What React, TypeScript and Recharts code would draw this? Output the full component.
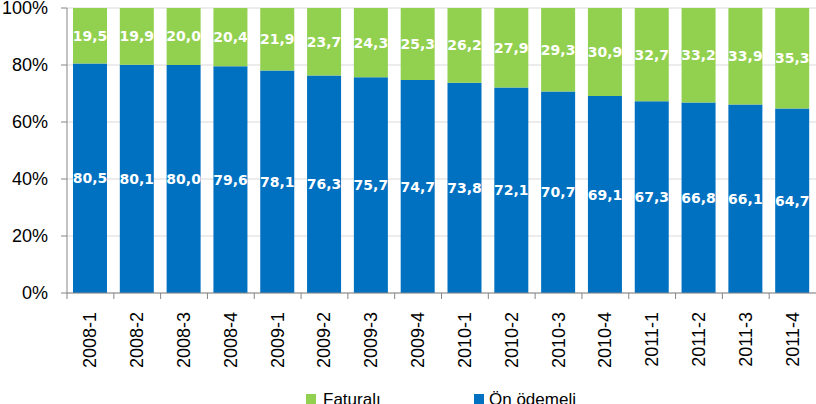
import React from "react"
import { BarChart, Bar, XAxis, YAxis, CartesianGrid, LabelList } from "recharts"

const periods = [
  "2008-1", "2008-2", "2008-3", "2008-4",
  "2009-1", "2009-2", "2009-3", "2009-4",
  "2010-1", "2010-2", "2010-3", "2010-4",
  "2011-1", "2011-2", "2011-3", "2011-4",
]
const onOdemeli = [80.5, 80.1, 80.0, 79.6, 78.1, 76.3, 75.7, 74.7, 73.8, 72.1, 70.7, 69.1, 67.3, 66.8, 66.1, 64.7]
const faturali = [19.5, 19.9, 20.0, 20.4, 21.9, 23.7, 24.3, 25.3, 26.2, 27.9, 29.3, 30.9, 32.7, 33.2, 33.9, 35.3]
const yTicks = [0, 20, 40, 60, 80, 100]

const data = periods.map((p, i) => ({ period: p, onOdemeli: onOdemeli[i], faturali: faturali[i] }))

const W = 816
const H = 404
const Y_AXIS_W = 67
const BLUE = "#0070C0"
const GREEN = "#92D050"
const AXIS = "#868686"
const FONT = "Liberation Sans, Arial, sans-serif"
const LABEL_FONT = "DejaVu Sans, Verdana, sans-serif"
const step = (W - Y_AXIS_W) / periods.length

const fmt = (v: any) => Number(v).toFixed(1).replace(".", ",")

// rotated category label plus a tick mark at the left edge of each band
const XTick = (props: any) => {
  const { x, y, payload } = props
  const left = x - step / 2
  return (
    <g>
      <line x1={left} x2={left} y1={y - 8} y2={y - 2} stroke={AXIS} strokeWidth={1} />
      <text
        x={x}
        y={y + 11}
        transform={`rotate(-90, ${x}, ${y + 11})`}
        textAnchor="end"
        dominantBaseline="central"
        fontFamily={FONT}
        fontSize={18}
        fill="#000"
      >
        {payload.value}
      </text>
    </g>
  )
}

export default function App() {
  return (
    <div style={{ position: "absolute", left: 0, top: 0, width: W, height: H, overflow: "hidden", background: "#fff" }}>
      <BarChart
        width={W}
        height={H}
        data={data}
        margin={{ top: 8, right: 0, left: 0, bottom: 0 }}
        barSize={34}
      >
        <CartesianGrid vertical={false} stroke="#D9D9D9" />
        <XAxis
          dataKey="period"
          height={111}
          interval={0}
          tickLine={false}
          axisLine={{ stroke: AXIS }}
          tick={<XTick />}
        />
        <YAxis
          width={Y_AXIS_W}
          domain={[0, 100]}
          ticks={yTicks}
          interval={0}
          tickFormatter={(v) => `${v}%`}
          tickSize={6}
          tickMargin={13}
          tickLine={{ stroke: AXIS }}
          axisLine={{ stroke: AXIS }}
          tick={{ fontFamily: FONT, fontSize: 18, fill: "#000" }}
        />
        <Bar dataKey="onOdemeli" stackId="a" fill={BLUE} isAnimationActive={false}>
          <LabelList
            dataKey="onOdemeli"
            position="center"
            formatter={fmt}
            fill="#fff"
            fontFamily={LABEL_FONT}
            fontWeight="bold"
            fontSize={14}
          />
        </Bar>
        <Bar dataKey="faturali" stackId="a" fill={GREEN} isAnimationActive={false}>
          <LabelList
            dataKey="faturali"
            position="center"
            formatter={fmt}
            fill="#fff"
            fontFamily={LABEL_FONT}
            fontWeight="bold"
            fontSize={14}
          />
        </Bar>
      </BarChart>
      <div
        style={{
          position: "absolute",
          top: 391,
          left: 0,
          width: W,
          fontFamily: FONT,
          fontSize: 17,
          color: "#000",
          lineHeight: "17px",
          whiteSpace: "nowrap",
        }}
      >
        <span style={{ position: "absolute", left: 306, top: 3, width: 10, height: 10, background: GREEN }} />
        <span style={{ position: "absolute", left: 323, top: 0 }}>Faturalı</span>
        <span style={{ position: "absolute", left: 474, top: 3, width: 10, height: 10, background: BLUE }} />
        <span style={{ position: "absolute", left: 489, top: 0 }}>Ön ödemeli</span>
      </div>
    </div>
  )
}
